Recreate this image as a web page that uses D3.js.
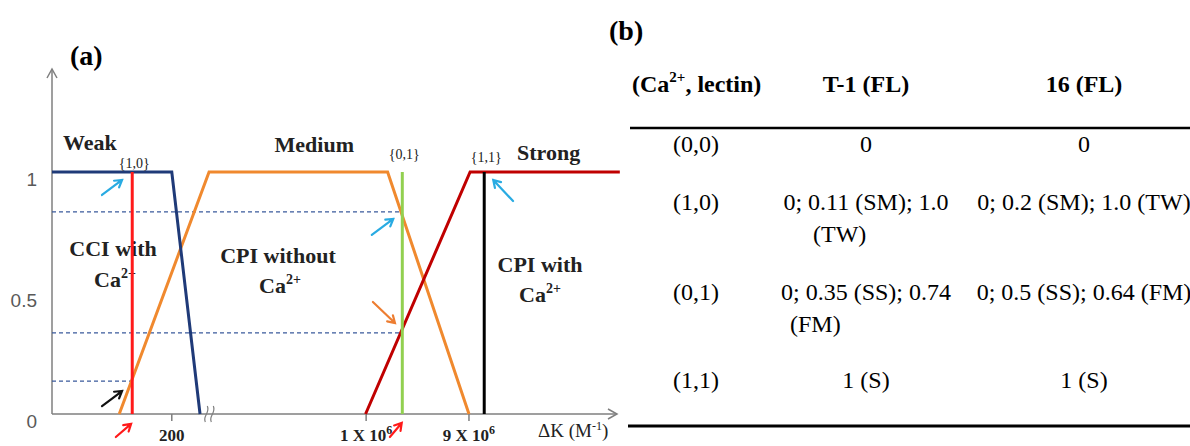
<!DOCTYPE html>
<html>
<head>
<meta charset="utf-8">
<script src="https://cdn.jsdelivr.net/npm/d3@7"></script>
<style>
  html, body { margin: 0; padding: 0; background: #fff; }
  svg { display: block; }
</style>
</head>
<body>
<div id="chart"></div>
<script>
// ---- data (a): membership functions, x in relative axis units (0-100), y membership
const weakCurve = [[0, 1], [21.2, 1], [26.2, 0]]
const mediumCurve = [[11.9, 0], [27.8, 1], [59.4, 1], [73.8, 0]]
const strongCurve = [[55.5, 0], [74.0, 1], [100.5, 1]]
const markerX = [14.2, 62.0, 76.5]
const markerLabels = ['{1,0}', '{0,1}', '{1,1}']
const cutLevels = [0.835, 0.335, 0.136]
const cutEnds = [62.0, 62.0, 14.2]
const yTickValues = [0, 0.5, 1]
const yTickLabels = ['0', '0.5', '1']
const xTickValues = [21.2, 55.6, 73.8]
const xTickLabels = [['200', ''], ['1 X 10', '6'], ['9 X 10', '6']]
const axisBreakAt = 28.2
// pointer arrows: [x0, y0, x1, y1] in data units
const cyanArrows = [[8.85, 0.905, 12.4, 0.967], [56.6, 0.74, 60.4, 0.806], [81.6, 0.88, 78.1, 0.967]]
const orangeArrows = [[56.8, 0.463, 60.7, 0.376]]
const blackArrows = [[8.85, 0.033, 12.4, 0.095]]
const redArrows = [[11.3, -0.095, 14.0, -0.041], [59.8, -0.095, 61.9, -0.037]]

// ---- data (b): table
const tableHeader = ['(Ca', ', lectin)', 'T-1 (FL)', '16 (FL)']
const rowKeys = ['(0,0)', '(1,0)', '(0,1)', '(1,1)']
const colT1 = [['0'], ['0; 0.11 (SM); 1.0', '(TW)'], ['0; 0.35 (SS); 0.74', '(FM)'], ['1 (S)']]
const col16 = ['0', '0; 0.2 (SM); 1.0 (TW)', '0; 0.5 (SS); 0.64 (FM)', '1 (S)']

const SERIF = '"Liberation Serif", "Times New Roman", serif'
const SANS = '"Liberation Sans", Arial, sans-serif'

const svg = d3.select('#chart').append('svg')
  .attr('width', 1190)
  .attr('height', 446)

const x = d3.scaleLinear().domain([0, 100]).range([52, 617])
const y = d3.scaleLinear().domain([0, 1]).range([414, 172])

const line = d3.line().x(d => x(d[0])).y(d => y(d[1]))

// ---- panel labels
svg.append('text')
  .attr('x', 70).attr('y', 65)
  .attr('font-family', SERIF).attr('font-weight', 'bold').attr('font-size', 28)
  .text('(a)')

svg.append('text')
  .attr('x', 609).attr('y', 40)
  .attr('font-family', SERIF).attr('font-weight', 'bold').attr('font-size', 28)
  .text('(b)')

// ---- region text (drawn under the lines)
const boldText = (tx, ty, str, anchor = 'start') => svg.append('text')
  .attr('x', tx).attr('y', ty)
  .attr('text-anchor', anchor)
  .attr('font-family', SERIF).attr('font-weight', 'bold').attr('font-size', 22)
  .attr('fill', '#222')
  .text(str)

const caText = (tx, ty) => {
  const t = svg.append('text')
    .attr('x', tx).attr('y', ty)
    .attr('text-anchor', 'middle')
    .attr('font-family', SERIF).attr('font-weight', 'bold').attr('font-size', 22)
    .attr('fill', '#222')
  t.append('tspan').text('Ca')
  t.append('tspan').attr('font-size', 14).attr('dy', -9).text('2+')
}

boldText(63, 150, 'Weak')
boldText(354, 152, 'Medium', 'end')
boldText(517, 160, 'Strong')
boldText(113, 256, 'CCI with', 'middle')
caText(115, 287)
boldText(278, 263, 'CPI without', 'middle')
caText(280, 293)
boldText(540, 272, 'CPI with', 'middle')
caText(540, 302)

// ---- axes
const axisColor = '#7f7f7f'
svg.append('line')
  .attr('x1', x(0)).attr('x2', x(100))
  .attr('y1', y(0)).attr('y2', y(0))
  .attr('stroke', axisColor).attr('stroke-width', 1.5)
svg.append('path')
  .attr('d', `M${x(100) - 9},${y(0) - 5}L${x(100)},${y(0)}L${x(100) - 9},${y(0) + 5}`)
  .attr('fill', 'none').attr('stroke', axisColor).attr('stroke-width', 1.5)
svg.append('line')
  .attr('x1', x(0)).attr('x2', x(0))
  .attr('y1', y(0)).attr('y2', 69)
  .attr('stroke', axisColor).attr('stroke-width', 1.5)
svg.append('path')
  .attr('d', `M${x(0) - 5},78L${x(0)},69L${x(0) + 5},78`)
  .attr('fill', 'none').attr('stroke', axisColor).attr('stroke-width', 1.5)

// axis break
const bx = x(axisBreakAt)
;[-3, 3].forEach(off => {
  svg.append('path')
    .attr('d', `M${bx + off - 3},${y(0) + 8}C${bx + off - 6},${y(0) + 2} ${bx + off + 2},${y(0) - 1} ${bx + off - 1},${y(0) - 8}`)
    .attr('fill', 'none').attr('stroke', axisColor).attr('stroke-width', 1.2)
})

// x ticks
svg.selectAll('.xtick')
  .data(xTickValues)
  .join('line')
  .attr('class', 'xtick')
  .attr('x1', d => x(d)).attr('x2', d => x(d))
  .attr('y1', y(0)).attr('y2', y(0) + 7)
  .attr('stroke', axisColor).attr('stroke-width', 1.5)

const xLab = svg.selectAll('.xlab')
  .data(xTickValues)
  .join('text')
  .attr('class', 'xlab')
  .attr('x', d => x(d)).attr('y', 441)
  .attr('text-anchor', 'middle')
  .attr('font-family', SERIF).attr('font-weight', 'bold').attr('font-size', 17)
  .attr('fill', '#222')
xLab.append('tspan').text((d, i) => xTickLabels[i][0])
xLab.append('tspan').attr('font-size', 12).attr('dy', -7).text((d, i) => xTickLabels[i][1])

const kLab = svg.append('text')
  .attr('x', 538).attr('y', 437)
  .attr('font-family', SERIF).attr('font-size', 19).attr('fill', '#222')
kLab.append('tspan').text('\u0394K (M')
kLab.append('tspan').attr('font-size', 12).attr('dy', -7).text('-1')
kLab.append('tspan').attr('dy', 7).text(')')

// y tick labels
svg.selectAll('.ylab')
  .data(yTickValues)
  .join('text')
  .attr('class', 'ylab')
  .attr('x', 37).attr('y', d => y(d) + 14)
  .attr('text-anchor', 'end')
  .attr('font-family', SANS).attr('font-size', 19)
  .attr('fill', '#595959')
  .text((d, i) => yTickLabels[i])

// ---- dashed cut levels
svg.selectAll('.cut')
  .data(cutLevels)
  .join('line')
  .attr('class', 'cut')
  .attr('x1', x(0)).attr('x2', (d, i) => x(cutEnds[i]))
  .attr('y1', d => y(d)).attr('y2', d => y(d))
  .attr('stroke', '#3a5a9c').attr('stroke-width', 1.3)
  .attr('stroke-dasharray', '4,3')

// ---- membership curves
svg.append('path').datum(mediumCurve).attr('d', line)
  .attr('fill', 'none').attr('stroke', '#f0892e').attr('stroke-width', 3)
svg.append('path').datum(weakCurve).attr('d', line)
  .attr('fill', 'none').attr('stroke', '#1f3a78').attr('stroke-width', 3)
svg.append('path').datum(strongCurve).attr('d', line)
  .attr('fill', 'none').attr('stroke', '#c00000').attr('stroke-width', 3)

// ---- state markers
const markerColors = ['#ff1a1a', '#92d050', '#000000']
svg.selectAll('.marker')
  .data(markerX)
  .join('line')
  .attr('class', 'marker')
  .attr('x1', d => x(d)).attr('x2', d => x(d))
  .attr('y1', y(1)).attr('y2', y(0))
  .attr('stroke', (d, i) => markerColors[i]).attr('stroke-width', 3)

const markerLabelDy = [-4, -13, -10]
svg.selectAll('.mlab')
  .data(markerX)
  .join('text')
  .attr('class', 'mlab')
  .attr('x', d => x(d) + 2)
  .attr('y', (d, i) => y(1) + markerLabelDy[i])
  .attr('text-anchor', 'middle')
  .attr('font-family', SERIF).attr('font-size', 14)
  .attr('fill', '#222')
  .text((d, i) => markerLabels[i])

// ---- pointer arrows
const drawArrows = (list, color) => {
  list.forEach(([x0, y0, x1, y1]) => {
    const px0 = x(x0), py0 = y(y0), px1 = x(x1), py1 = y(y1)
    const ang = Math.atan2(py1 - py0, px1 - px0)
    const len = 8, spread = 0.55
    const h1 = [px1 - len * Math.cos(ang - spread), py1 - len * Math.sin(ang - spread)]
    const h2 = [px1 - len * Math.cos(ang + spread), py1 - len * Math.sin(ang + spread)]
    svg.append('path')
      .attr('d', `M${px0},${py0}L${px1},${py1}M${h1[0]},${h1[1]}L${px1},${py1}L${h2[0]},${h2[1]}`)
      .attr('fill', 'none').attr('stroke', color).attr('stroke-width', 2.2)
      .attr('stroke-linecap', 'round')
  })
}
drawArrows(cyanArrows, '#29abe2')
drawArrows(orangeArrows, '#ed7d31')
drawArrows(blackArrows, '#111')
drawArrows(redArrows, '#ff1a1a')

// ---- table (b)
const colCenters = [696, 866, 1084]
const wrapStarts = [null, 813, 790, null]
const rowBaselines = [152, 210, 300, 388]
const wrapGap = 32

const head = svg.append('g')
  .attr('font-family', SERIF).attr('font-weight', 'bold').attr('font-size', 24)
  .attr('fill', '#000')
const h0 = head.append('text').attr('x', 632).attr('y', 92)
h0.append('tspan').text(tableHeader[0])
h0.append('tspan').attr('font-size', 15).attr('dy', -10).text('2+')
h0.append('tspan').attr('dy', 10).text(tableHeader[1])
head.append('text').attr('x', colCenters[1]).attr('y', 92).attr('text-anchor', 'middle').text(tableHeader[2])
head.append('text').attr('x', colCenters[2]).attr('y', 92).attr('text-anchor', 'middle').text(tableHeader[3])

svg.append('line')
  .attr('x1', 630).attr('x2', 1190).attr('y1', 128).attr('y2', 128)
  .attr('stroke', '#000').attr('stroke-width', 2.5)
svg.append('line')
  .attr('x1', 628).attr('x2', 1190).attr('y1', 426).attr('y2', 426)
  .attr('stroke', '#000').attr('stroke-width', 3)

const body = svg.append('g')
  .attr('font-family', SERIF).attr('font-size', 24).attr('fill', '#000')

body.selectAll('.key')
  .data(rowKeys)
  .join('text')
  .attr('x', colCenters[0]).attr('y', (d, i) => rowBaselines[i])
  .attr('text-anchor', 'middle')
  .text(d => d)

colT1.forEach((lines, i) => {
  body.append('text')
    .attr('x', colCenters[1]).attr('y', rowBaselines[i])
    .attr('text-anchor', 'middle')
    .text(lines[0])
  if (lines[1]) {
    body.append('text')
      .attr('x', wrapStarts[i]).attr('y', rowBaselines[i] + wrapGap)
      .text(lines[1])
  }
})

body.selectAll('.c16')
  .data(col16)
  .join('text')
  .attr('x', colCenters[2]).attr('y', (d, i) => rowBaselines[i])
  .attr('text-anchor', 'middle')
  .text(d => d)
</script>
</body>
</html>
